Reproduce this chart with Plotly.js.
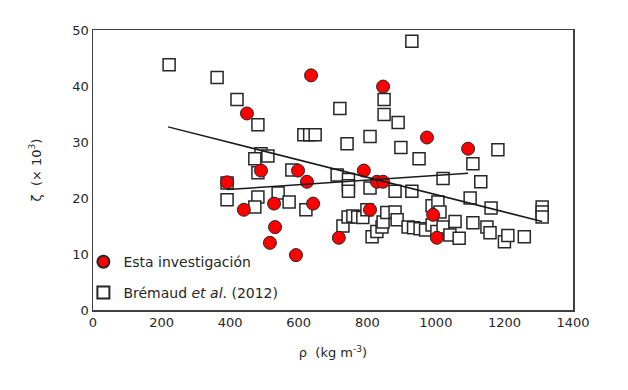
<!DOCTYPE html>
<html>
<head>
<meta charset="utf-8">
<script src="https://cdn.plot.ly/plotly-3.0.1.min.js"></script>
<style>html,body{margin:0;padding:0;background:#fff;}#chart{width:628px;height:390px;}</style>
</head>
<body>
<div id="chart"></div>
<script>
// Esta investigación (red circles)
const estaX = [391, 449, 440, 490, 528, 598, 624, 642, 531, 516, 592, 717, 636, 846, 974, 1094, 790, 828, 846, 808, 992, 1003];
const estaY = [22.8, 35.1, 17.9, 24.9, 19.0, 24.9, 22.9, 19.0, 14.8, 12.0, 9.8, 12.9, 41.9, 39.9, 30.8, 28.8, 24.9, 22.9, 22.9, 17.9, 17.0, 12.9];

// Brémaud et al. (2012) (open squares)
const bremX = [222, 362, 420, 481, 720, 615, 632, 648, 741, 930, 849, 849, 890, 808, 898, 951, 1181, 1108,
  490, 510, 472, 481, 580, 391, 391, 481, 472, 540, 572, 621, 712, 745, 745, 745,
  808, 881, 930, 1021, 1131, 1100, 1161, 1310, 1310, 1310, 989, 1006, 1012,
  729, 744, 758, 772, 787, 799, 814, 828, 843, 846, 857, 881, 887, 919, 935, 954, 970, 989, 1003, 1021, 1041, 1056, 1068, 1108, 1149, 1158, 1200, 1210, 1258];
const bremY = [43.8, 41.5, 37.6, 33.1, 36.0, 31.3, 31.3, 31.3, 29.7, 48.0, 37.6, 34.9, 33.5, 31.0, 29.0, 27.0, 28.6, 26.1,
  27.9, 27.5, 27.0, 24.5, 25.0, 22.7, 19.7, 20.2, 18.4, 20.9, 19.3, 17.9, 24.1, 23.3, 22.2, 21.2,
  21.8, 21.2, 21.2, 23.5, 22.9, 20.0, 18.2, 18.4, 17.5, 16.6, 18.6, 19.3, 17.5,
  15.0, 16.6, 16.8, 16.6, 16.5, 17.9, 13.1, 14.0, 14.8, 15.7, 17.4, 17.5, 16.1, 14.8, 14.7, 14.5, 14.3, 15.2, 14.0, 14.8, 13.4, 15.8, 12.8, 15.6, 14.8, 13.8, 12.2, 13.3, 13.1];

// Trend lines (end points)
const estaTrendX = [391, 1094];
const estaTrendY = [21.5, 24.4];
const bremTrendX = [219, 1310];
const bremTrendY = [32.7, 15.8];

const xTicks = [0, 200, 400, 600, 800, 1000, 1200, 1400];
const yTicks = [0, 10, 20, 30, 40, 50];

const FONT = 'DejaVu Sans, Verdana, sans-serif';
const TXT = '#262626';

const traces = [
  {
    x: bremX, y: bremY, type: 'scatter', mode: 'markers',
    name: 'Brémaud <i>et al</i>. (2012)', legend: 'legend2',
    marker: {symbol: 'square', size: 12, color: '#ffffff', line: {color: '#262626', width: 1.5}}
  },
  {
    x: estaX, y: estaY, type: 'scatter', mode: 'markers',
    name: 'Esta investigación', legend: 'legend',
    marker: {symbol: 'circle', size: 13, color: '#ff0000', line: {color: '#262626', width: 1}}
  },
  {
    x: bremTrendX, y: bremTrendY, type: 'scatter', mode: 'lines', showlegend: false,
    line: {color: '#1a1a1a', width: 1.5}
  },
  {
    x: estaTrendX, y: estaTrendY, type: 'scatter', mode: 'lines', showlegend: false,
    line: {color: '#1a1a1a', width: 1.5}
  }
];

const layout = {
  width: 628, height: 390,
  margin: {l: 93, r: 55, t: 30, b: 80},
  paper_bgcolor: '#ffffff', plot_bgcolor: '#ffffff',
  font: {family: FONT, size: 13, color: TXT},
  showlegend: true,
  xaxis: {
    range: [0, 1400], tickvals: xTicks, ticktext: xTicks.map(String),
    showgrid: false, zeroline: false, showline: true, mirror: true,
    linecolor: '#404040', linewidth: 1.5, ticks: '',
    tickfont: {family: FONT, size: 13, color: TXT},
    title: {text: 'ρ  (kg m<sup>-3</sup>)', font: {family: FONT, size: 13, color: TXT}, standoff: 19}
  },
  yaxis: {
    range: [0, 50], tickvals: yTicks, ticktext: yTicks.map(String),
    showgrid: false, zeroline: false, showline: true, mirror: true,
    linecolor: '#404040', linewidth: 1.5, ticks: '',
    tickfont: {family: FONT, size: 13, color: TXT},
    title: {text: 'ζ  (× 10<sup>3</sup>)', font: {family: FONT, size: 13, color: TXT}, standoff: 28}
  },
  legend: {
    x: -0.02, y: 0.171, xanchor: 'left', yanchor: 'middle',
    bgcolor: 'rgba(0,0,0,0)', borderwidth: 0, itemsizing: 'constant',
    font: {family: FONT, size: 14, color: TXT}, itemwidth: 30
  },
  legend2: {
    x: -0.02, y: 0.061, xanchor: 'left', yanchor: 'middle',
    bgcolor: 'rgba(0,0,0,0)', borderwidth: 0, itemsizing: 'constant',
    font: {family: FONT, size: 14, color: TXT}, itemwidth: 30
  }
};

Plotly.newPlot('chart', traces, layout, {displayModeBar: false, staticPlot: true});
</script>
</body>
</html>
